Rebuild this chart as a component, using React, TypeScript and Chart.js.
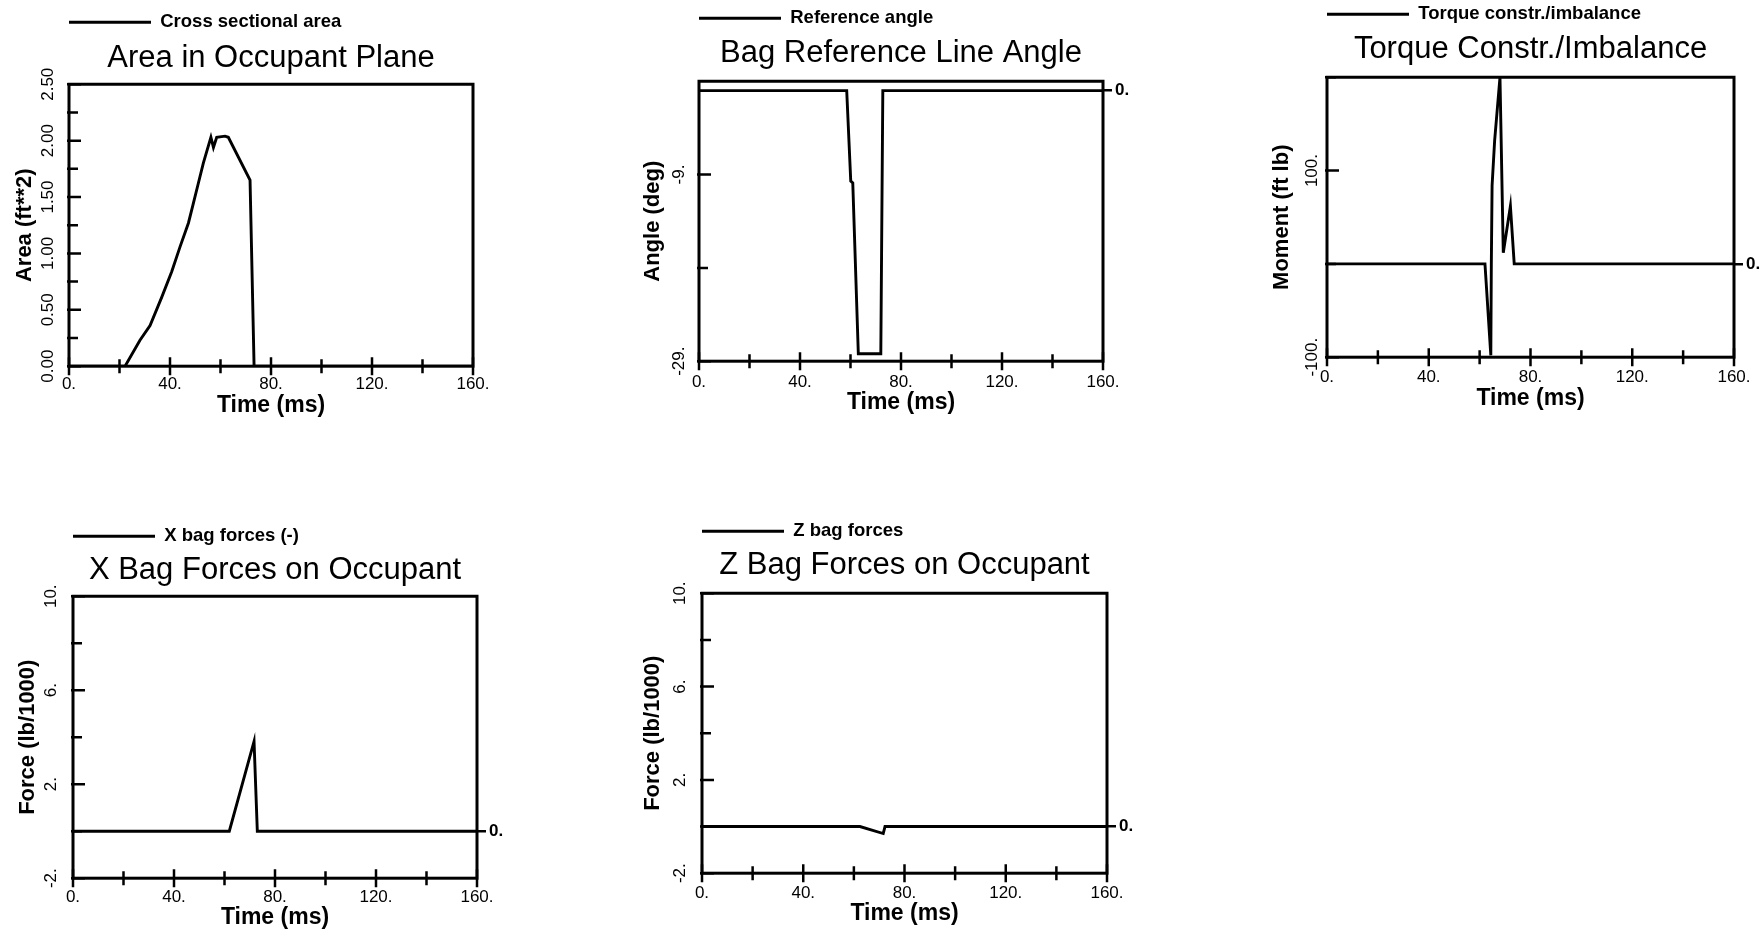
import React, { useEffect, useRef } from 'react';
import { Chart, registerables } from 'chart.js';

Chart.register(...registerables);

const FONT = "'Liberation Sans', Arial, Helvetica, sans-serif";

// ---------- data ----------
const timeTicks = [0, 20, 40, 60, 80, 100, 120, 140, 160];
const timeLabels = ['0.', '', '40.', '', '80.', '', '120.', '', '160.'];

// Area in Occupant Plane
const areaTime = [0, 22.2, 28.1, 32.1, 36.7, 40.7, 44.0, 47.3, 49.2, 51.2, 53.2, 54.5, 56.2, 57.2, 58.5, 61.8, 63.1, 71.7, 73.3, 160];
const areaValue = [0, 0, 0.23, 0.36, 0.61, 0.84, 1.06, 1.27, 1.44, 1.62, 1.8, 1.9, 2.03, 1.94, 2.03, 2.04, 2.03, 1.65, 0, 0];
const areaYTicks = [0, 0.25, 0.5, 0.75, 1, 1.25, 1.5, 1.75, 2, 2.25, 2.5];
const areaYLabels = ['0.00', '', '0.50', '', '1.00', '', '1.50', '', '2.00', '', '2.50'];

// Bag Reference Line Angle
const angleTime = [0, 58.5, 60.1, 60.9, 63.1, 72.0, 72.8, 160];
const angleValue = [0, 0, -9.7, -9.9, -28.2, -28.2, 0, 0];
const angleYTicks = [-29, -19, -9];
const angleYLabels = ['-29.', '', '-9.'];

// Torque Constr./Imbalance
const torqueTime = [0, 62.1, 64.4, 64.6, 64.9, 65.9, 68.0, 69.3, 72.1, 73.6, 160];
const torqueValue = [0, 0, -98, 0, 84, 132, 200, 12, 62, 0, 0];
const torqueYTicks = [-100, 0, 100, 200];
const torqueYLabels = ['-100.', '', '100.', ''];

// X Bag Forces on Occupant
const xForceTime = [0, 61.9, 71.7, 73.0, 160];
const xForceValue = [0, 0, 3.82, 0, 0];

// Z Bag Forces on Occupant
const zForceTime = [0, 62.4, 71.6, 72.3, 160];
const zForceValue = [0, 0, -0.3, 0, 0];

const forceYTicks = [-2, 0, 2, 4, 6, 8, 10];
const forceYLabels = ['-2.', '', '2.', '', '6.', '', '10.'];

// ---------- layout / style ----------
const LEFT_W = 68;
const RIGHT_W = 30;
const LEG_SIZE = 18.5;
const LEG_PAD = 0;
const TITLE_SIZE = 31;
const YT_SIZE = 22;
const XT_SIZE = 23;
const TICK_SIZE = 17;

type PanelCfg = {
  title: string; legend: string; yTitle: string;
  t: number[]; v: number[];
  yMin: number; yMax: number; yTicks: number[]; yLabels: string[];
  zero: boolean;
  L: number; T: number; R: number; B: number;
  legendY: number; titleY: number; xTitleY: number; yTitleX: number;
  xLabelGap: number; yLabelOff: number;
};

const panels: PanelCfg[] = [
  { title: 'Area in Occupant Plane', legend: 'Cross sectional area', yTitle: 'Area (ft**2)',
    t: areaTime, v: areaValue, yMin: 0, yMax: 2.5, yTicks: areaYTicks, yLabels: areaYLabels, zero: false,
    L: 69, T: 84, R: 473, B: 366, legendY: 22, titleY: 58, xTitleY: 405, yTitleX: 25, xLabelGap: 17.7, yLabelOff: 21 },
  { title: 'Bag Reference Line Angle', legend: 'Reference angle', yTitle: 'Angle (deg)',
    t: angleTime, v: angleValue, yMin: -29, yMax: 1, yTicks: angleYTicks, yLabels: angleYLabels, zero: true,
    L: 699, T: 81, R: 1103, B: 361, legendY: 18, titleY: 53, xTitleY: 402, yTitleX: 653, xLabelGap: 21, yLabelOff: 20 },
  { title: 'Torque Constr./Imbalance', legend: 'Torque constr./imbalance', yTitle: 'Moment (ft lb)',
    t: torqueTime, v: torqueValue, yMin: -100, yMax: 200, yTicks: torqueYTicks, yLabels: torqueYLabels, zero: true,
    L: 1327, T: 77, R: 1734, B: 357, legendY: 14, titleY: 49, xTitleY: 398, yTitleX: 1282, xLabelGap: 19.7, yLabelOff: 15 },
  { title: 'X Bag Forces on Occupant', legend: 'X bag forces (-)', yTitle: 'Force (lb/1000)',
    t: xForceTime, v: xForceValue, yMin: -2, yMax: 10, yTicks: forceYTicks, yLabels: forceYLabels, zero: true,
    L: 73, T: 596, R: 477, B: 878, legendY: 536, titleY: 570, xTitleY: 917, yTitleX: 28, xLabelGap: 18.7, yLabelOff: 22 },
  { title: 'Z Bag Forces on Occupant', legend: 'Z bag forces', yTitle: 'Force (lb/1000)',
    t: zForceTime, v: zForceValue, yMin: -2, yMax: 10, yTicks: forceYTicks, yLabels: forceYLabels, zero: true,
    L: 702, T: 593, R: 1107, B: 873, legendY: 531, titleY: 565, xTitleY: 913, yTitleX: 653, xLabelGap: 20, yLabelOff: 22 },
];

function measure(text: string, font: string) {
  const c = document.createElement('canvas').getContext('2d') as CanvasRenderingContext2D;
  c.font = font;
  return c.measureText(text).width;
}

function layoutOf(c: PanelCfg) {
  const titleLH = TITLE_SIZE * 1.2;
  const ytLH = YT_SIZE * 1.2;
  const xtLH = XT_SIZE * 1.2;
  const legendH = LEG_SIZE + LEG_PAD + 10;
  const top = c.legendY - LEG_PAD - LEG_SIZE / 2;
  const titlePadTop = c.titleY - titleLH / 2 - (top + legendH);
  const titlePadBottom = c.T - (top + legendH + titlePadTop + titleLH);
  const xAxisH = c.xTitleY - c.B + xtLH / 2;
  const left = c.L - LEFT_W;
  return {
    left, top,
    width: LEFT_W + (c.R - c.L) + RIGHT_W,
    height: (c.B - top) + xAxisH,
    titlePadTop, titlePadBottom, xAxisH,
    yTitlePad: c.yTitleX - left - ytLH / 2,
    xTickPad: c.xLabelGap - (TICK_SIZE * 1.2) / 2,
  };
}

const framePlugin = {
  id: 'frameTicks',
  afterDraw(chart: any) {
    const { ctx, chartArea: a, scales } = chart;
    ctx.save();
    ctx.strokeStyle = '#000';
    ctx.lineWidth = 3;
    ctx.strokeRect(a.left, a.top, a.right - a.left, a.bottom - a.top);
    ctx.lineWidth = 2.5;
    ctx.beginPath();
    scales.x.ticks.forEach((t: any) => {
      const px = scales.x.getPixelForValue(t.value);
      const h = t.label ? 9 : 7;
      ctx.moveTo(px, a.bottom - h);
      ctx.lineTo(px, a.bottom + h);
    });
    scales.y.ticks.forEach((t: any) => {
      const py = scales.y.getPixelForValue(t.value);
      const w = t.label ? 12 : 9;
      ctx.moveTo(a.left - 2, py);
      ctx.lineTo(a.left + w, py);
    });
    ctx.stroke();
    ctx.restore();
  },
};

function Panel({ cfg }: { cfg: PanelCfg }) {
  const ref = useRef<HTMLCanvasElement>(null);
  const lay = layoutOf(cfg);

  useEffect(() => {
    if (!ref.current) return;
    const tickFont = { family: FONT, size: TICK_SIZE };
    const widest = Math.max(...cfg.yLabels.map((s) => measure(s, `${TICK_SIZE}px ${FONT}`)));
    const yPad = cfg.yLabelOff - widest / 2;

    const chart = new Chart(ref.current, {
      type: 'line',
      data: {
        datasets: [{
          label: cfg.legend,
          data: cfg.t.map((x, i) => ({ x, y: cfg.v[i] })),
          borderColor: '#000',
          backgroundColor: '#000',
          borderWidth: 2.9,
          pointRadius: 0,
          tension: 0,
          yAxisID: 'y',
        }],
      },
      options: {
        responsive: false,
        animation: false,
        layout: { padding: 0 },
        plugins: {
          legend: {
            display: true, position: 'top', align: 'start', fullSize: false, weight: 3000,
            labels: {
              color: '#000', boxWidth: 82, boxHeight: 3, padding: LEG_PAD,
              font: { family: FONT, size: LEG_SIZE, weight: 'bold' },
              generateLabels: (ch: any) =>
                (Chart.defaults.plugins.legend.labels.generateLabels as any)(ch).map((l: any) => ({
                  ...l, lineWidth: 0, fillStyle: '#000',
                })),
            },
          },
          title: {
            display: true, text: cfg.title, fullSize: false, align: 'center', color: '#000',
            font: { family: FONT, size: TITLE_SIZE, weight: 'normal' },
            padding: { top: lay.titlePadTop, bottom: lay.titlePadBottom },
          },
          tooltip: { enabled: false },
        },
        scales: {
          x: {
            type: 'linear', position: 'bottom', min: 0, max: 160,
            afterBuildTicks: (s: any) => { s.ticks = timeTicks.map((v) => ({ value: v })); },
            ticks: {
              callback: (_v: any, i: number) => timeLabels[i],
              autoSkip: false, maxRotation: 0, minRotation: 0,
              padding: lay.xTickPad, font: tickFont, color: '#000',
            },
            grid: { display: false, drawTicks: false },
            border: { display: false },
            title: { display: true, text: 'Time (ms)', font: { family: FONT, size: XT_SIZE, weight: 'bold' }, color: '#000', padding: 0 },
            afterFit: (s: any) => { s.height = lay.xAxisH; },
          },
          y: {
            type: 'linear', position: 'left', min: cfg.yMin, max: cfg.yMax,
            afterBuildTicks: (s: any) => { s.ticks = cfg.yTicks.map((v) => ({ value: v })); },
            ticks: {
              callback: (_v: any, i: number) => cfg.yLabels[i],
              autoSkip: false, minRotation: 90, maxRotation: 90, crossAlign: 'center',
              padding: yPad, font: tickFont, color: '#000',
            },
            grid: { display: false, drawTicks: false },
            border: { display: false },
            title: {
              display: true, text: cfg.yTitle, font: { family: FONT, size: YT_SIZE, weight: 'bold' }, color: '#000',
              padding: { top: lay.yTitlePad, bottom: 0 },
            },
            afterFit: (s: any) => { s.width = LEFT_W; },
          },
          y2: {
            type: 'linear', position: 'right', min: cfg.yMin, max: cfg.yMax,
            afterBuildTicks: (s: any) => { s.ticks = [{ value: 0 }]; },
            ticks: {
              callback: () => (cfg.zero ? '0.' : ''),
              padding: 3, font: { family: FONT, size: TICK_SIZE, weight: 'bold' }, color: '#000',
            },
            grid: { display: cfg.zero, drawOnChartArea: false, drawTicks: true, tickLength: 9, color: '#000', lineWidth: 2.5 },
            border: { display: false },
            afterFit: (s: any) => { s.width = RIGHT_W; },
          },
        },
      } as any,
      plugins: [framePlugin],
    });
    return () => chart.destroy();
  }, []);

  return (
    <canvas
      ref={ref}
      width={Math.round(lay.width)}
      height={Math.round(lay.height)}
      style={{ position: 'absolute', left: lay.left, top: lay.top, width: Math.round(lay.width), height: Math.round(lay.height) }}
    />
  );
}

export default function App() {
  return (
    <div style={{ position: 'fixed', left: 0, top: 0, width: 1764, height: 933, background: '#fff', overflow: 'hidden' }}>
      {panels.map((p, i) => <Panel key={i} cfg={p} />)}
    </div>
  );
}
